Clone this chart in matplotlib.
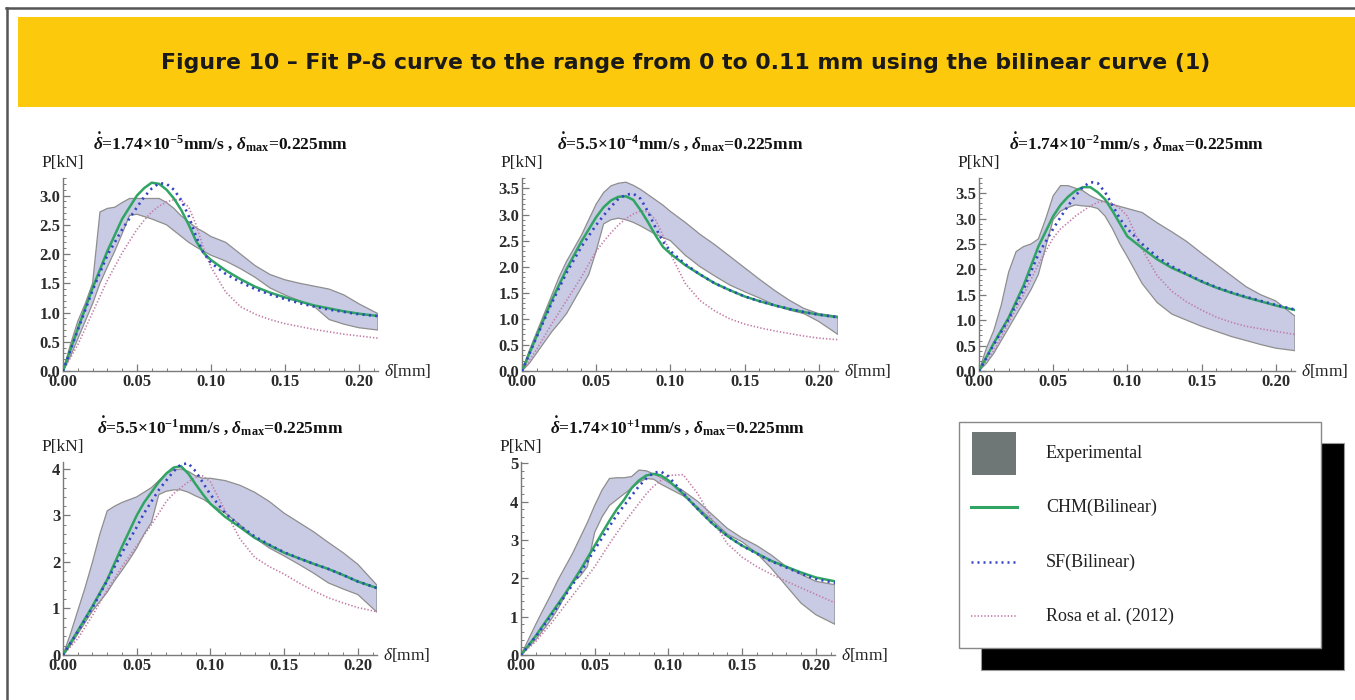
import numpy as np
import matplotlib
matplotlib.use("Agg")
import matplotlib.pyplot as plt
from matplotlib.patches import Rectangle
from matplotlib.lines import Line2D
from matplotlib.ticker import MultipleLocator, FormatStrFormatter

W, H = 1355, 700

plt.rcParams['font.family'] = ['Liberation Serif', 'DejaVu Serif']
plt.rcParams['mathtext.fontset'] = 'custom'
plt.rcParams['mathtext.rm'] = 'Liberation Serif'
plt.rcParams['mathtext.it'] = 'Liberation Serif:italic'
plt.rcParams['mathtext.bf'] = 'Liberation Serif:bold'
plt.rcParams['mathtext.bfit'] = 'Liberation Serif:italic:bold'

# displacement grid for the model curves [mm]
x_fit = [0, .01, .02, .03, .04, .05, .055, .06, .065, .07, .075, .08, .085, .09,
         .095, .10, .11, .12, .13, .14, .15, .16, .17, .18, .19, .20, .213]
# displacement grid for the experimental envelope [mm]
x_exp = [0, .005, .01, .015, .02, .025, .03, .035, .04, .045, .05, .055, .06, .065,
         .07, .075, .08, .085, .09, .095, .10, .11, .12, .13, .14, .15, .16, .17,
         .18, .19, .20, .213]

# loading rates: mantissa and exponent
rate_mant = ['1.74', '5.5', '1.74', '5.5', '1.74']
rate_exp = ['-5', '-4', '-2', '-1', '+1']

# panel 1
chm1 = [0, .72, 1.42, 2.05, 2.6, 3.0, 3.13, 3.22, 3.2, 3.1, 2.95, 2.75, 2.5, 2.22,
        2.02, 1.9, 1.72, 1.57, 1.44, 1.34, 1.26, 1.19, 1.12, 1.07, 1.02, .98, .94]
sf1 = [0, .7, 1.38, 1.98, 2.42, 2.8, 2.98, 3.12, 3.21, 3.2, 3.1, 2.92, 2.65, 2.3,
       2.02, 1.85, 1.66, 1.52, 1.4, 1.31, 1.23, 1.16, 1.1, 1.05, 1.01, .97, .94]
rosa1 = [0, .45, 1.0, 1.55, 2.02, 2.42, 2.58, 2.72, 2.82, 2.89, 2.93, 2.92, 2.8, 2.5,
         2.1, 1.78, 1.35, 1.1, .97, .88, .81, .76, .71, .67, .63, .6, .56]
up1 = [0, .45, .85, 1.15, 1.5, 2.72, 2.78, 2.8, 2.88, 2.95, 2.95, 2.95, 2.95, 2.95,
       2.88, 2.78, 2.65, 2.55, 2.45, 2.38, 2.3, 2.2, 2.0, 1.8, 1.65, 1.56, 1.5, 1.45,
       1.4, 1.3, 1.15, .98]
lo1 = [0, .25, .55, .85, 1.15, 1.5, 1.78, 2.05, 2.35, 2.66, 2.68, 2.64, 2.6, 2.55,
       2.5, 2.4, 2.3, 2.2, 2.12, 2.05, 1.98, 1.88, 1.75, 1.6, 1.42, 1.3, 1.2, 1.1,
       .88, .8, .74, .7]

# panel 2
chm2 = [0, .68, 1.35, 1.95, 2.48, 2.95, 3.14, 3.27, 3.34, 3.35, 3.28, 3.08, 2.85, 2.6,
        2.38, 2.25, 2.03, 1.85, 1.68, 1.55, 1.43, 1.34, 1.26, 1.19, 1.13, 1.08, 1.03]
sf2 = [0, .66, 1.3, 1.88, 2.38, 2.8, 2.98, 3.15, 3.3, 3.38, 3.4, 3.3, 3.05, 2.75,
       2.48, 2.3, 2.05, 1.85, 1.68, 1.55, 1.43, 1.34, 1.26, 1.19, 1.13, 1.08, 1.03]
rosa2 = [0, .42, .9, 1.35, 1.8, 2.3, 2.48, 2.65, 2.8, 2.92, 3.01, 3.07, 3.05, 2.9,
         2.6, 2.25, 1.68, 1.35, 1.15, 1.0, .9, .83, .77, .72, .67, .63, .6]
up2 = [0, .4, .75, 1.1, 1.45, 1.8, 2.1, 2.35, 2.6, 2.9, 3.2, 3.42, 3.55, 3.6, 3.62,
       3.56, 3.48, 3.38, 3.28, 3.18, 3.06, 2.85, 2.62, 2.42, 2.2, 1.98, 1.76, 1.55,
       1.36, 1.2, 1.1, 1.05]
lo2 = [0, .15, .35, .55, .75, .92, 1.1, 1.35, 1.6, 1.85, 2.3, 2.82, 2.9, 2.93, 2.9,
       2.85, 2.78, 2.7, 2.62, 2.56, 2.5, 2.22, 2.0, 1.82, 1.65, 1.52, 1.4, 1.27,
       1.17, 1.1, .95, .7]

# panel 3
chm3 = [0, .55, 1.05, 1.68, 2.45, 3.05, 3.27, 3.43, 3.55, 3.62, 3.62, 3.52, 3.38,
        3.15, 2.9, 2.65, 2.42, 2.2, 2.03, 1.9, 1.76, 1.64, 1.54, 1.45, 1.37, 1.29, 1.2]
sf3 = [0, .52, 1.02, 1.6, 2.3, 2.8, 3.03, 3.25, 3.45, 3.62, 3.72, 3.7, 3.52, 3.26,
       3.0, 2.8, 2.5, 2.25, 2.06, 1.91, 1.77, 1.65, 1.55, 1.46, 1.38, 1.3, 1.21]
rosa3 = [0, .4, .95, 1.5, 2.1, 2.62, 2.8, 2.92, 3.05, 3.15, 3.25, 3.32, 3.34, 3.3,
         3.2, 3.05, 2.4, 1.88, 1.57, 1.36, 1.2, 1.06, .96, .88, .83, .78, .72]
up3 = [0, .45, .8, 1.3, 1.95, 2.35, 2.45, 2.5, 2.6, 3.0, 3.45, 3.65, 3.65, 3.6, 3.55,
       3.45, 3.38, 3.33, 3.28, 3.24, 3.2, 3.12, 2.92, 2.74, 2.55, 2.32, 2.1, 1.88,
       1.66, 1.5, 1.38, 1.08]
lo3 = [0, .15, .35, .6, .85, 1.1, 1.35, 1.6, 1.9, 2.45, 2.98, 3.15, 3.22, 3.27, 3.25,
       3.24, 3.2, 3.05, 2.8, 2.5, 2.25, 1.72, 1.35, 1.12, 1.0, .88, .78, .68, .6,
       .52, .45, .4]

# panel 4
chm4 = [0, .52, 1.05, 1.62, 2.33, 3.0, 3.28, 3.5, 3.72, 3.9, 4.03, 4.06, 3.9, 3.67,
        3.45, 3.25, 2.97, 2.75, 2.52, 2.36, 2.2, 2.08, 1.96, 1.85, 1.72, 1.58, 1.44]
sf4 = [0, .5, 1.02, 1.6, 2.2, 2.75, 3.05, 3.3, 3.55, 3.75, 3.95, 4.1, 4.12, 3.95,
       3.7, 3.45, 3.05, 2.78, 2.55, 2.37, 2.21, 2.08, 1.96, 1.85, 1.72, 1.58, 1.44]
rosa4 = [0, .35, .85, 1.4, 1.9, 2.35, 2.58, 2.8, 3.05, 3.3, 3.47, 3.6, 3.72, 3.82,
         3.85, 3.72, 3.1, 2.5, 2.1, 1.9, 1.74, 1.55, 1.38, 1.23, 1.12, 1.02, .93]
up4 = [0, .45, .95, 1.45, 2.0, 2.6, 3.1, 3.2, 3.28, 3.34, 3.4, 3.5, 3.6, 3.75, 3.9,
       3.98, 4.0, 3.95, 3.85, 3.8, 3.8, 3.75, 3.65, 3.5, 3.3, 3.05, 2.85, 2.65,
       2.42, 2.2, 1.95, 1.5]
lo4 = [0, .2, .45, .7, .95, 1.15, 1.35, 1.6, 1.82, 2.05, 2.3, 2.6, 2.85, 3.45, 3.52,
       3.55, 3.55, 3.5, 3.42, 3.35, 3.25, 3.05, 2.8, 2.52, 2.3, 2.13, 1.95, 1.76,
       1.55, 1.42, 1.3, .92]

# panel 5
chm5 = [0, .5, 1.05, 1.6, 2.2, 2.85, 3.18, 3.5, 3.8, 4.05, 4.35, 4.55, 4.68, 4.72,
        4.68, 4.55, 4.2, 3.8, 3.42, 3.1, 2.85, 2.65, 2.45, 2.3, 2.15, 2.02, 1.92]
sf5 = [0, .48, 1.0, 1.55, 2.12, 2.75, 3.05, 3.35, 3.65, 3.9, 4.15, 4.4, 4.6, 4.75,
       4.78, 4.65, 4.22, 3.8, 3.42, 3.1, 2.85, 2.64, 2.44, 2.28, 2.12, 1.98, 1.88]
rosa5 = [0, .35, .8, 1.3, 1.8, 2.3, 2.6, 2.9, 3.18, 3.45, 3.7, 3.95, 4.2, 4.4, 4.55,
         4.68, 4.7, 4.2, 3.5, 2.9, 2.55, 2.3, 2.1, 1.92, 1.75, 1.58, 1.36]
up5 = [0, .4, .8, 1.18, 1.55, 1.95, 2.3, 2.65, 3.05, 3.45, 3.9, 4.3, 4.6, 4.62, 4.62,
       4.65, 4.82, 4.8, 4.72, 4.62, 4.5, 4.28, 4.0, 3.65, 3.3, 3.05, 2.85, 2.6, 2.3,
       2.1, 1.92, 1.83]
lo5 = [0, .2, .4, .65, .9, 1.2, 1.55, 1.9, 2.05, 2.3, 3.2, 3.6, 3.9, 4.05, 4.2, 4.35,
       4.5, 4.6, 4.58, 4.45, 4.35, 4.15, 3.85, 3.5, 3.15, 2.95, 2.65, 2.25, 1.8,
       1.35, 1.05, .8]

legend_labels = ['Experimental', 'CHM(Bilinear)', 'SF(Bilinear)', 'Rosa et al. (2012)']

BAND_FC = '#c9cbe4'
BAND_EC = '#8e8e8e'
GREEN = '#2fa463'
BLUE = '#3444c4'
PINK = '#c27aa6'
AX_C = '#7a7a7a'


def px_box(l, t, r, b):
    return [l / W, 1 - b / H, (r - l) / W, (b - t) / H]


def draw_panel(fig, box, up, lo, chm, sf, rosa, ymax, ymaj, ymin, yfmt, mant, expo):
    ax = fig.add_axes(px_box(*box))
    ax.fill(np.r_[x_exp, x_exp[::-1]], np.r_[up, lo[::-1]],
            fc=BAND_FC, ec=BAND_EC, lw=0.9, zorder=1)
    ax.plot(x_fit, chm, color=GREEN, lw=1.8, zorder=3)
    ax.plot(x_fit, sf, color=BLUE, lw=1.9, ls=(0, (0.8, 1.6)), zorder=4)
    ax.plot(x_fit, rosa, color=PINK, lw=1.2, ls=(0, (0.8, 1.2)), zorder=2)
    ax.set_xlim(0, 0.213)
    ax.set_ylim(0, ymax)
    for s in ['top', 'right']:
        ax.spines[s].set_visible(False)
    for s in ['left', 'bottom']:
        ax.spines[s].set_color(AX_C)
        ax.spines[s].set_linewidth(1.0)
    ax.xaxis.set_major_locator(MultipleLocator(0.05))
    ax.xaxis.set_minor_locator(MultipleLocator(0.01))
    ax.xaxis.set_major_formatter(FormatStrFormatter('%.2f'))
    ax.yaxis.set_major_locator(MultipleLocator(ymaj))
    ax.yaxis.set_minor_locator(MultipleLocator(ymin))
    ax.yaxis.set_major_formatter(FormatStrFormatter(yfmt))
    ax.tick_params(which='both', direction='in', color=AX_C, labelcolor='#2b2b2b',
                   labelsize=12, pad=2)
    ax.tick_params(which='major', length=5, width=0.9)
    ax.tick_params(which='minor', length=2.5, width=0.7)
    for lab in ax.get_xticklabels() + ax.get_yticklabels():
        lab.set_fontweight('bold')
    ax.set_facecolor('none')
    ax.annotate('P[kN]', xy=(0, 1), xycoords='axes fraction', xytext=(0, 5),
                textcoords='offset points', ha='center', va='bottom', fontsize=12.5,
                color='#222222')
    ax.annotate(r'$\delta$[mm]', xy=(1, 0), xycoords='axes fraction', xytext=(4, 0),
                textcoords='offset points', ha='left', va='center', fontsize=12.5,
                color='#222222')
    title = (r'$\mathbfit{\dot{\delta}}$=' + mant + '\u00d7' +
             r'$\mathbf{10}^{\mathbf{' + expo + r'}}$mm/s , ' +
             r'$\mathbfit{\delta}_{\mathbf{max}}$=0.225mm')
    ax.annotate(title, xy=(0.5, 1), xycoords='axes fraction', xytext=(0, 26),
                textcoords='offset points', ha='center', va='center', fontsize=12.5,
                fontweight='bold', color='#111111')
    return ax


fig = plt.figure(figsize=(W / 100, H / 100), dpi=100)

# frame and title band
fig.add_artist(Line2D([6 / W, 1], [1 - 8 / H] * 2, color='#555555', lw=1.8))
fig.add_artist(Line2D([7 / W] * 2, [0, 1 - 8 / H], color='#555555', lw=1.8))
fig.add_artist(Rectangle((18 / W, 1 - 107 / H), 1, 90 / H, color='#fdc90c', lw=0))
fig.text(686 / W, 1 - 63 / H,
         'Figure 10 \u2013 Fit P-\u03b4 curve to the range from 0 to 0.11 mm using the bilinear curve (1)',
         ha='center', va='center', fontsize=15.8, fontweight='bold',
         family=['DejaVu Sans'], color='#1a1a1a')

panels = [
    ((63, 178, 378, 371), up1, lo1, chm1, sf1, rosa1, 3.3, 0.5, 0.1, '%.1f'),
    ((522, 178, 838, 371), up2, lo2, chm2, sf2, rosa2, 3.7, 0.5, 0.1, '%.1f'),
    ((979, 178, 1295, 371), up3, lo3, chm3, sf3, rosa3, 3.8, 0.5, 0.1, '%.1f'),
    ((63, 462, 377, 655), up4, lo4, chm4, sf4, rosa4, 4.15, 1, 0.2, '%d'),
    ((521, 462, 835, 655), up5, lo5, chm5, sf5, rosa5, 5.03, 1, 0.2, '%d'),
]
for p, m, e in zip(panels, rate_mant, rate_exp):
    draw_panel(fig, *p, m, e)

# legend box with solid shadow
fig.add_artist(Rectangle((981 / W, 1 - 670 / H), 363 / W, 227 / H, fc='black', ec='#999999', lw=0.8))
fig.add_artist(Rectangle((959 / W, 1 - 648 / H), 362 / W, 226 / H, fc='white', ec='#888888', lw=1.0))
fig.add_artist(Rectangle((972 / W, 1 - 475 / H), 44 / W, 43 / H, fc='#6e7676', lw=0))
rows = [453, 507, 562, 616]
fig.add_artist(Line2D([971 / W, 1017 / W], [1 - rows[1] / H] * 2, color=GREEN, lw=2.2))
fig.add_artist(Line2D([971 / W, 1017 / W], [1 - rows[2] / H] * 2, color=BLUE, lw=1.8,
                      ls=(0, (0.8, 1.6))))
fig.add_artist(Line2D([971 / W, 1017 / W], [1 - rows[3] / H] * 2, color=PINK, lw=1.2,
                      ls=(0, (0.8, 1.2))))
for lab, r in zip(legend_labels, rows):
    fig.text(1046 / W, 1 - r / H, lab, ha='left', va='center', fontsize=13, color='#222222')

fig.savefig('out.png', dpi=100)
